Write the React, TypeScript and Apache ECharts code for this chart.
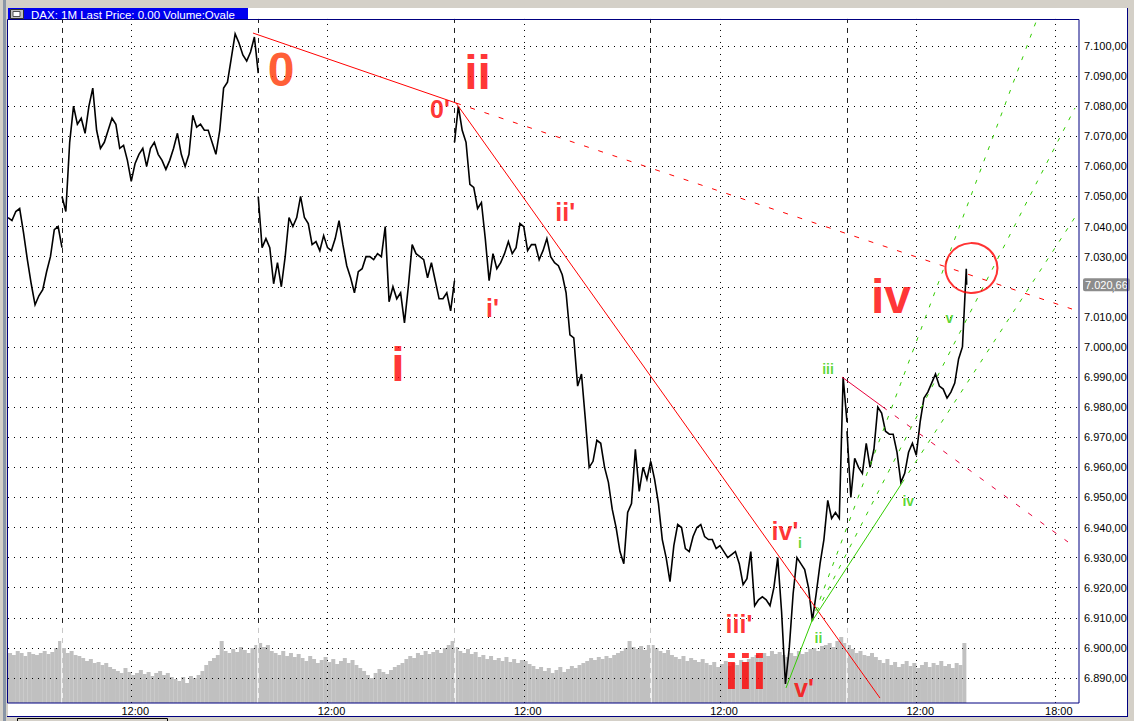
import React, { useEffect, useRef } from "react";
import * as echarts from "echarts";

// ---------- axis ranges ----------
const X_MIN = -140.3; // session minutes (0 = day 1 09:00; each session 09:00-17:30 = 510 min)
const X_MAX = 2642.9;
const P_MIN = 6880;
const P_MAX = 7110;
const P_STEP = 10;
const FRAME_P_LOW = 6881.7;
const FRAME_P_HIGH = 7109;

const SAMPLE_MIN = 10;
const dayStartTimes = [-140, 0, 510, 1020, 1530, 2040];

// ---------- prices (10-minute samples) ----------
const pricesPrevDay = [7043, 7042, 7045, 7046, 7038, 7029, 7021, 7014, 7017, 7019, 7025, 7030, 7039, 7040, 7033];
const pricesDay1 = [
  7050, 7045, 7068, 7080, 7074, 7076, 7071, 7080, 7086, 7072, 7066, 7068, 7072, 7076, 7074, 7066, 7067, 7062,
  7055, 7061, 7064, 7066, 7060, 7066, 7068, 7064, 7062, 7059, 7062, 7066, 7071, 7064, 7060, 7064, 7077, 7073,
  7074, 7072, 7072, 7068, 7064, 7072, 7086, 7088, 7096, 7104, 7101, 7097, 7095, 7098, 7103, 7091,
];
const pricesDay2 = [
  7050, 7033, 7036, 7033, 7021, 7028, 7020, 7030, 7043, 7040, 7043, 7050, 7043, 7041, 7034, 7035, 7032, 7037,
  7033, 7032, 7036, 7042, 7034, 7027, 7023, 7018, 7025, 7026, 7030, 7030, 7029, 7031, 7030, 7040, 7015, 7020,
  7016, 7018, 7008, 7020, 7034, 7031, 7030, 7029, 7023, 7028, 7022, 7016, 7016, 7018, 7012, 7022,
];
const pricesDay3 = [
  7068, 7080, 7072, 7068, 7054, 7053, 7046, 7048, 7036, 7022, 7031, 7026, 7028, 7031, 7035, 7031, 7033, 7041,
  7040, 7032, 7034, 7034, 7029, 7032, 7036, 7030, 7028, 7027, 7024, 7018, 7004, 7003, 6987, 6991, 6976, 6960,
  6962, 6969, 6968, 6960, 6955, 6946, 6940, 6932, 6928, 6945, 6948, 6966, 6952, 6960, 6956, 6962,
];
const pricesDay4 = [
  6962, 6956, 6948, 6936, 6930, 6922, 6934, 6941, 6940, 6933, 6932, 6937, 6940, 6941, 6937, 6936, 6936, 6933,
  6934, 6932, 6930, 6931, 6932, 6928, 6921, 6923, 6932, 6914, 6916, 6917, 6916, 6914, 6920, 6930, 6912, 6888,
  6900, 6918, 6930, 6928, 6926, 6920, 6909, 6918, 6928, 6936, 6949, 6943, 6945, 6943, 6990, 6975,
];
const pricesDay5 = [
  6972, 6950, 6963, 6960, 6958, 6968, 6960, 6966, 6980, 6978, 6972, 6971, 6971, 6965, 6955, 6958, 6965, 6968,
  6964, 6975, 6983, 6985, 6988, 6991, 6987, 6986, 6983, 6985, 6988, 6996, 7000, 7026,
];
const lastTradeTime = 2351;
const lastTradePrice = 7020.66;

// ---------- volume (10-minute bars) ----------
const volumePrevDay = [50, 48, 52, 50, 47, 51, 49, 48, 50, 52, 49, 51, 55, 62];
const volumeDay1 = [
  55, 50, 52, 48, 47, 45, 42, 44, 40, 41, 38, 40, 36, 34, 32, 30, 35, 31, 28, 30, 33, 29, 31, 27, 30, 32, 28, 30,
  26, 24, 22, 26, 20, 27, 25, 28, 32, 38, 42, 45, 48, 62, 52, 50, 54, 51, 56, 53, 50, 55, 58,
];
const volumeDay2 = [
  60, 56, 58, 52, 50, 48, 52, 47, 50, 46, 49, 45, 42, 47, 44, 40, 43, 46, 41, 44, 39, 42, 45, 40, 43, 38, 35, 32,
  28, 25, 30, 34, 31, 29, 33, 36, 38, 40, 44, 47, 45, 50, 48, 52, 49, 51, 53, 50, 55, 58, 62,
];
const volumeDay3 = [
  56, 52, 50, 54, 49, 51, 46, 48, 44, 47, 43, 45, 42, 46, 41, 44, 40, 43, 42, 39, 37, 34, 36, 32, 35, 30, 33, 36,
  31, 34, 37, 35, 38, 40, 42, 45, 43, 46, 44, 47, 45, 48, 50, 52, 55, 62, 56, 54, 57, 53, 58,
];
const volumeDay4 = [
  58, 55, 52, 50, 53, 48, 46, 44, 47, 42, 45, 43, 41, 44, 40, 38, 41, 36, 39, 42, 37, 40, 38, 43, 41, 44, 46, 48,
  45, 50, 47, 52, 49, 51, 48, 46, 50, 47, 52, 49, 51, 54, 55, 52, 57, 58, 60, 56, 62, 66, 60,
];
const volumeDay5 = [58, 54, 50, 52, 48, 47, 50, 46, 43, 40, 44, 38, 41, 36, 39, 42, 37, 40, 35, 38, 41, 36, 40, 38, 42, 37, 39, 35, 40, 38, 60];
const VOLUME_AXIS_MAX = 103;

// ---------- axis ticks ----------
const priceGridValues = [6890, 6900, 6910, 6920, 6930, 6940, 6950, 6960, 6970, 6980, 6990, 7000, 7010, 7020, 7030, 7040, 7050, 7060, 7070, 7080, 7090, 7100];
const sessionOpenTimes = [0, 510, 1020, 1530, 2040];
const timeTickValues = [180, 690, 1200, 1710, 2220, 2580];
const timeTickLabels = ["12:00", "12:00", "12:00", "12:00", "12:00", "18:00"];

// ---------- drawn trend lines (time, price) ----------
const redTrend = [[496.3, 7104.3], [1023.9, 7081.06], [2125.7, 6883.35]];
const redTrendDashed = [[1023.9, 7081.06], [2624.7, 7012.6]];
const crimsonTrend = [[2027.0, 6990.0], [2132.7, 6980.1]];
const crimsonTrendDashed = [[2132.7, 6980.1], [2614.3, 6935.2]];
const greenTrend = [[1881.5, 6886.7], [1947.7, 6908.6], [2182.9, 6954.8]];
const greenFanA = [[1947.7, 6908.6], [2531.1, 7108.0]];
const greenFanB = [[1947.7, 6908.6], [2632.4, 7079.4]];
const greenFanC = [[2182.9, 6954.8], [2635.0, 7043.6]];
const ovalCenter = [2363.5, 7026.2];

// ---------- wave labels ----------
const waveLabels = [
  { text: "0", t: 569.1, p: 7092.2, kind: "bigOrange" },
  { text: "ii", t: 1079.7, p: 7091.2, kind: "big" },
  { text: "0'", t: 982.3, p: 7079.2, kind: "small" },
  { text: "ii'", t: 1307.9, p: 7044.7, kind: "small" },
  { text: "i'", t: 1118.7, p: 7013.1, kind: "small" },
  { text: "i", t: 873.1, p: 6994.2, kind: "big" },
  { text: "iii'", t: 1759.3, p: 6907.9, kind: "small" },
  { text: "iii", t: 1776.1, p: 6892.0, kind: "huge" },
  { text: "iv'", t: 1878.8, p: 6939.0, kind: "small" },
  { text: "v'", t: 1928.1, p: 6886.7, kind: "small" },
  { text: "iv", t: 2154.3, p: 7016.9, kind: "big" },
  { text: "iii", t: 1990.6, p: 6992.7, kind: "green" },
  { text: "i", t: 1917.8, p: 6934.9, kind: "green" },
  { text: "ii", t: 1965.9, p: 6903.3, kind: "green" },
  { text: "iv", t: 2199.2, p: 6948.8, kind: "green" },
  { text: "v", t: 2305.8, p: 7009.5, kind: "green" },
];

const labelStyles: Record<string, { size: number; color: string }> = {
  bigOrange: { size: 48, color: "#ff3300" },
  big: { size: 48, color: "#ff0000" },
  huge: { size: 50, color: "#ff0000" },
  small: { size: 25, color: "#ff0000" },
  green: { size: 14, color: "#33cc00" },
};

const FONT = "'Liberation Sans', Arial, sans-serif";

function fmtPrice(v: number): string {
  const s = v.toFixed(2);
  const [i, d] = s.split(".");
  return i.replace(/\B(?=(\d{3})+(?!\d))/g, ".") + "," + d;
}

function buildPriceData() {
  const days = [pricesPrevDay, pricesDay1, pricesDay2, pricesDay3, pricesDay4, pricesDay5];
  const out: any[] = [];
  days.forEach((arr, d) => {
    if (d > 0) out.push([dayStartTimes[d], "-"]);
    arr.forEach((p, i) => out.push([dayStartTimes[d] + i * SAMPLE_MIN, p]));
  });
  out.push([lastTradeTime, lastTradePrice]);
  return out;
}

function buildVolumeData() {
  const days = [volumePrevDay, volumeDay1, volumeDay2, volumeDay3, volumeDay4, volumeDay5];
  const out: any[] = [];
  days.forEach((arr, d) => {
    arr.forEach((v, i) => out.push([dayStartTimes[d] + SAMPLE_MIN / 2 + i * SAMPLE_MIN, v]));
  });
  return out;
}

function trendSeries(data: number[][], color: string, dashed: number[] | null) {
  return {
    type: "line",
    xAxisIndex: 0,
    yAxisIndex: 0,
    data,
    symbol: "none",
    silent: true,
    z: 6,
    lineStyle: { color, width: 1, type: dashed ? dashed : "solid" },
  };
}

export default function App() {
  const ref = useRef<HTMLDivElement>(null);
  useEffect(() => {
    if (!ref.current) return;
    const chart = echarts.init(ref.current, undefined, { renderer: "svg" });

    const hLines = priceGridValues.map((p) => [{ coord: [X_MIN, p] }, { coord: [X_MAX, p] }]);
    const openLines = sessionOpenTimes.map((t) => [{ coord: [t, FRAME_P_LOW] }, { coord: [t, FRAME_P_HIGH] }]);
    const timeLines = timeTickValues.map((t) => [{ coord: [t, FRAME_P_LOW] }, { coord: [t, FRAME_P_HIGH] }]);
    const volGapLines = sessionOpenTimes.map((t) => [{ coord: [t, 0] }, { coord: [t, 75] }]);

    const W = 1134;
    const H = 721;

    chart.setOption({
      animation: false,
      backgroundColor: "#d4d0c8",
      grid: [
        { left: 8, top: 15.9, width: 1071, height: 692.2 },
        { left: 8, top: 600, width: 1071, height: 103 },
      ],
      xAxis: [
        { type: "value", gridIndex: 0, min: X_MIN, max: X_MAX, show: false },
        {
          type: "value",
          gridIndex: 1,
          min: X_MIN,
          max: X_MAX,
          axisLine: { show: false },
          axisTick: { show: false },
          splitLine: { show: false },
          axisLabel: {
            customValues: timeTickValues,
            formatter: (v: number) => {
              const k = timeTickValues.indexOf(Math.round(v));
              return k >= 0 ? timeTickLabels[k] : "";
            },
            color: "#000",
            fontSize: 11,
            fontFamily: FONT,
            margin: 2,
            padding: [0, 0, 0, 8],
          },
        },
      ],
      yAxis: [
        {
          type: "value",
          gridIndex: 0,
          position: "right",
          min: P_MIN,
          max: P_MAX,
          interval: P_STEP,
          axisLine: { show: false },
          axisTick: { show: false },
          splitLine: { show: false },
          axisLabel: {
            showMinLabel: false,
            showMaxLabel: false,
            formatter: (v: number) => fmtPrice(v),
            color: "#000",
            fontSize: 11,
            fontFamily: FONT,
            margin: 5,
          },
        },
        { type: "value", gridIndex: 1, min: 0, max: VOLUME_AXIS_MAX, show: false },
      ],
      graphic: [
        { type: "rect", z: 0, shape: { x: 0, y: 0, width: W, height: H }, style: { fill: "#d4d0c8" } },
        { type: "rect", z: 0, shape: { x: 3, y: 0, width: 3, height: H }, style: { fill: "#8a96a6" } },
        { type: "rect", z: 0, shape: { x: 8, y: 8, width: 1119, height: 708 }, style: { fill: "#ffffff" } },
        { type: "rect", z: 0, shape: { x: 8, y: 8, width: 240, height: 12 }, style: { fill: "#0000f0" } },
        { type: "rect", z: 1, shape: { x: 10.5, y: 9.5, width: 13, height: 9 }, style: { fill: "#c0c0c0", stroke: "#303030", lineWidth: 1 } },
        { type: "rect", z: 1, shape: { x: 13, y: 11.5, width: 7, height: 5 }, style: { fill: "#ffffff", stroke: "#505050", lineWidth: 1 } },
        {
          type: "text",
          z: 1,
          x: 31,
          y: 14.5,
          style: { text: "DAX: 1M Last Price: 0,00 Volume:Ovale", fill: "#ffffff", fontSize: 11.5, fontFamily: FONT, verticalAlign: "middle" },
        },
        { type: "rect", z: 50, shape: { x: 7.5, y: 19.5, width: 1071.5, height: 683.5 }, style: { fill: "rgba(0,0,0,0)", stroke: "#000080", lineWidth: 1 } },
        { type: "line", z: 50, shape: { x1: 1127.5, y1: 8, x2: 1127.5, y2: 717 }, style: { stroke: "#000080", lineWidth: 1 } },
        { type: "line", z: 50, shape: { x1: 7, y1: 716.5, x2: 1128, y2: 716.5 }, style: { stroke: "#000080", lineWidth: 1 } },
        { type: "rect", z: 50, shape: { x: 17.5, y: 718.5, width: 150, height: 6 }, style: { fill: "rgba(0,0,0,0)", stroke: "#000000", lineWidth: 1 } },
      ],
      series: [
        {
          type: "line",
          name: "grid-h",
          xAxisIndex: 0,
          yAxisIndex: 0,
          data: [[X_MIN, P_MIN]],
          symbol: "none",
          silent: true,
          z: 1,
          markLine: {
            silent: true,
            symbol: ["none", "none"],
            label: { show: false },
            lineStyle: { color: "#000", width: 1, type: [1, 5] },
            data: hLines,
          },
        },
        {
          type: "line",
          name: "grid-open",
          xAxisIndex: 0,
          yAxisIndex: 0,
          data: [[X_MIN, P_MIN]],
          symbol: "none",
          silent: true,
          z: 1,
          markLine: {
            silent: true,
            symbol: ["none", "none"],
            label: { show: false },
            lineStyle: { color: "#202020", width: 1, type: [5, 5] },
            data: openLines,
          },
        },
        {
          type: "line",
          name: "grid-time",
          xAxisIndex: 0,
          yAxisIndex: 0,
          data: [[X_MIN, P_MIN]],
          symbol: "none",
          silent: true,
          z: 1,
          markLine: {
            silent: true,
            symbol: ["none", "none"],
            label: { show: false },
            lineStyle: { color: "#000", width: 1, type: [1, 5] },
            data: timeLines,
          },
        },
        {
          type: "bar",
          name: "Volume",
          xAxisIndex: 1,
          yAxisIndex: 1,
          data: buildVolumeData(),
          barWidth: 4,
          silent: true,
          z: 2,
          itemStyle: { color: "#c0c0c0" },
          markLine: {
            silent: true,
            symbol: ["none", "none"],
            label: { show: false },
            lineStyle: { color: "#ffffff", width: 1.5, type: "solid" },
            data: volGapLines,
          },
        },
        {
          type: "line",
          name: "DAX",
          xAxisIndex: 0,
          yAxisIndex: 0,
          data: buildPriceData(),
          symbol: "none",
          silent: true,
          connectNulls: false,
          z: 5,
          lineStyle: { color: "#000000", width: 1.6, join: "miter" },
          markLine: {
            silent: true,
            symbol: ["none", "none"],
            lineStyle: { color: "rgba(0,0,0,0)", width: 0 },
            label: {
              show: true,
              position: "end",
              distance: 4,
              formatter: () => fmtPrice(lastTradePrice),
              color: "#ffffff",
              backgroundColor: "#8c8c8c",
              borderRadius: 2,
              padding: [1, 2, 1, 2],
              fontSize: 11,
              fontFamily: FONT,
            },
            data: [{ yAxis: lastTradePrice }],
          },
        },
        trendSeries(redTrend, "#ff0000", null),
        trendSeries(redTrendDashed, "#ff0000", [5, 10]),
        trendSeries(crimsonTrend, "#e8003c", null),
        trendSeries(crimsonTrendDashed, "#e8003c", [5, 10]),
        trendSeries(greenTrend, "#33cc00", null),
        trendSeries(greenFanA, "#33cc00", [4, 8]),
        trendSeries(greenFanB, "#33cc00", [4, 8]),
        trendSeries(greenFanC, "#33cc00", [4, 8]),
        {
          type: "scatter",
          name: "oval",
          xAxisIndex: 0,
          yAxisIndex: 0,
          data: [ovalCenter],
          symbol: "circle",
          symbolSize: [52, 50],
          silent: true,
          z: 7,
          itemStyle: { color: "rgba(0,0,0,0)", borderColor: "#ff0000", borderWidth: 2 },
        },
        {
          type: "scatter",
          name: "waves",
          xAxisIndex: 0,
          yAxisIndex: 0,
          symbolSize: 1,
          silent: true,
          z: 8,
          itemStyle: { color: "rgba(0,0,0,0)" },
          data: waveLabels.map((w) => ({
            value: [w.t, w.p],
            label: {
              show: true,
              position: "inside",
              formatter: w.text,
              fontSize: labelStyles[w.kind].size,
              color: labelStyles[w.kind].color,
              fontWeight: "bold",
              fontFamily: FONT,
            },
          })),
        },
      ],
    });
    return () => chart.dispose();
  }, []);

  return <div ref={ref} style={{ position: "absolute", left: 0, top: 0, width: 1134, height: 721 }} />;
}
